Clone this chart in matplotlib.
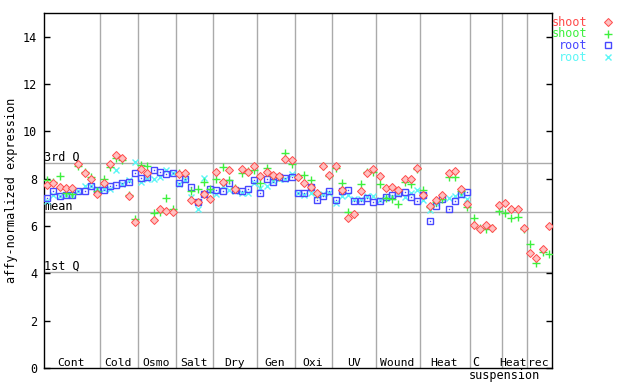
import numpy as np
import matplotlib
matplotlib.use("Agg")
import matplotlib.pyplot as plt

plt.rcParams['font.family'] = ['DejaVu Sans Mono']

# experiment groups (label, number of samples)
groups = ["Cont", "Cold", "Osmo", "Salt", "Dry", "Gen", "Oxi", "UV", "Wound", "Heat", "C", "Heat", "rec"]
counts = [9, 6, 6, 6, 7, 6, 6, 7, 7, 8, 5, 4, 4]

# chip-wide reference levels
q3_level = 8.67
mean_level = 6.6
q1_level = 4.06

nan = np.nan
shoot_1 = [7.74, 7.81, 7.64, 7.60, 7.60, 8.63, 8.24, 7.98, 7.36,
           7.81, 8.63, 9.01, 8.87, 7.27, 6.16,
           8.40, 8.24, 6.26, 6.73, 6.64, 6.59,
           8.20, 8.24, 7.08, 7.01, 7.36, 7.14,
           8.27, 7.84, 8.38, 7.56, 8.40, 8.30, 8.54,
           8.12, 8.30, 8.16, 8.10, 8.82, 8.77,
           8.06, 7.80, 7.64, 7.41, 8.54, 8.16,
           8.52, 7.54, 6.33, 6.50, 7.46, 8.26, 8.40,
           8.12, 7.60, 7.64, 7.53, 7.98, 7.98, 8.45,
           7.31, 6.85, 7.09, 7.29, 8.24, 8.31, 7.56, 6.94,
           6.05, 5.87, 6.05, 5.91, 6.90,
           6.97, 6.71, 6.71, 5.91,
           4.85, 4.64, 5.03, 5.98]
shoot_2 = [7.95, 7.84, 8.12, 7.39, 7.36, 8.54, 8.28, 8.09, 7.46,
           7.98, 8.50, 8.87, 8.77, 7.31, 6.29,
           8.59, 8.54, 6.54, 6.61, 7.18, 6.73,
           8.24, 8.20, 7.46, 7.56, 7.88, 7.56,
           8.00, 8.49, 7.95, 7.60, 8.24, 8.31, 8.37,
           7.81, 8.45, 8.10, 8.09, 9.08, 8.63,
           8.09, 8.16, 7.95, 7.35, 8.54, 8.10,
           8.45, 7.81, 6.60, 6.50, 7.78, 8.27, 8.27,
           7.77, 7.20, 7.14, 6.94, 7.84, 7.77, 8.40,
           7.54, 6.82, 7.02, 7.14, 8.07, 8.07, 7.50, 6.82,
           6.33, 5.90, 5.87, 5.91, 6.64,
           6.54, 6.33, 6.37, 5.87,
           5.25, 4.43, 4.89, 4.81]
root_1 = [7.18, 7.49, 7.25, 7.29, 7.29, 7.49, 7.49, 7.67, 7.53,
          7.53, 7.67, 7.74, 7.81, 7.84, 8.24,
          8.02, 8.09, 8.38, 8.28, 8.21, 8.26,
          7.81, 7.98, 7.64, 7.01, 7.36, 7.56,
          7.53, 7.49, 7.81, 7.53, 7.50, 7.56, 7.95,
          7.41, 7.98, 7.88, 8.05, 8.02, 8.09,
          7.41, 7.41, 7.64, 7.10, 7.27, 7.46,
          7.08, 7.48, 7.53, 7.04, 7.04, 7.18, 7.01,
          7.04, 7.22, 7.32, 7.41, 7.43, 7.22, 7.04,
          7.31, 6.22, 6.85, 7.15, 6.71, 7.06, 7.36, 7.43,
          nan, nan, nan, nan, nan,
          nan, nan, nan, nan,
          nan, nan, nan, nan]
root_2 = [7.04, 7.29, 7.28, 7.33, 7.30, 7.49, 7.70, 7.70, 7.56,
          7.56, 7.56, 8.38, 7.77, 7.95, 8.70,
          7.88, 7.98, 7.98, 8.05, 8.38, 8.26,
          7.77, 7.95, 7.22, 6.73, 8.02, 7.50,
          7.35, 7.70, 7.53, 7.46, 7.39, 7.39, 7.83,
          7.60, 7.67, 7.90, 8.00, 8.00, 8.20,
          7.39, 7.30, 7.39, 7.30, 7.37, 7.41,
          6.97, 7.28, 7.30, 7.14, 7.14, 7.28, 7.28,
          7.10, 7.18, 7.22, 7.35, 7.24, 7.41, 7.53,
          7.10, 6.68, 6.98, 7.20, 7.20, 7.25, 7.31, 7.14,
          nan, nan, nan, nan, nan,
          nan, nan, nan, nan,
          nan, nan, nan, nan]

red = "#ff4a4a"
green = "#3ef03e"
blue = "#4848ff"
cyan = "#5cf6f6"
grey = "#aaaaaa"

x = np.arange(len(shoot_1))

fig = plt.figure(figsize=(6.4, 3.84), dpi=100)
ax = fig.add_axes([44 / 640, 16 / 384, 508 / 640, 355 / 384])

# reference lines
for q in (q3_level, mean_level, q1_level):
    ax.axhline(q, color=grey, lw=1, zorder=1)
ax.text(-0.45, q3_level + 0.08, "3rd Q", fontsize=8.5, va="baseline", ha="left")
ax.text(-0.45, mean_level + 0.08, "mean", fontsize=8.5, va="baseline", ha="left")
ax.text(-0.45, q1_level + 0.08, "1st Q", fontsize=8.5, va="baseline", ha="left")

# group separators and labels
edges = np.cumsum([0] + counts) - 0.5
for e in edges[1:-1]:
    ax.axvline(e, color=grey, lw=1, zorder=1)
for name, lo, hi in zip(groups, edges[:-1], edges[1:]):
    if name == "C":
        ax.text(lo + 0.9, 0.07, "C", fontsize=8.5, ha="center", va="baseline")
        ax.text(lo - 0.3, -0.45, "suspension", fontsize=8.5, ha="left",
                va="baseline", clip_on=False)
    else:
        ax.text((lo + hi) / 2 - 0.15, 0.07, name, fontsize=8.2, ha="center", va="baseline")

# data
ax.plot(x, root_2, ls="none", marker="x", ms=4.5, mew=1, color=cyan, zorder=3)
ax.plot(x, root_1, ls="none", marker="s", ms=4.5, mew=1, mfc="none", mec=blue, zorder=3)
ax.plot(x, root_1, ls="none", marker="s", ms=1, mew=0, color=blue, zorder=3)
ax.plot(x, shoot_2, ls="none", marker="+", ms=6, mew=1, color=green, zorder=4)
ax.plot(x, shoot_1, ls="none", marker="D", ms=3.6, mew=0.7, mfc="#ffc0c0", mec=red, zorder=4)

ax.set_xlim(-0.5, len(x) - 0.5)
ax.set_ylim(0, 15)
ax.set_xticks([])
ax.set_yticks(range(0, 15, 2))
ax.tick_params(axis="y", direction="in", length=4, width=1, right=True,
               labelsize=8.5, pad=5)
for s in ax.spines.values():
    s.set_linewidth(1)
    s.set_color("black")

fig.text(12 / 640, 0.503, "affy-normalized expression", rotation=90,
         fontsize=8.5, ha="center", va="center")

# legend drawn on the right, text right-aligned, marker after it
legend_items = [("shoot", red, dict(marker="D", ms=3.6, mew=0.7, mfc="#ffc0c0", mec=red)),
                ("shoot", green, dict(marker="+", ms=6, mew=1, color=green)),
                ("root", blue, dict(marker="s", ms=4.5, mew=1, mfc="none", mec=blue)),
                ("root", cyan, dict(marker="x", ms=4.5, mew=1, color=cyan))]
for k, (label, col, style) in enumerate(legend_items):
    ypix = 22 + k * 11.7
    fy = 1 - ypix / 384
    fig.text(587 / 640, fy, label, color=col, fontsize=8.5, ha="right", va="center")
    fig.add_artist(plt.Line2D([608 / 640], [fy], transform=fig.transFigure,
                              ls="none", **style))

fig.savefig("out.png", dpi=100)
